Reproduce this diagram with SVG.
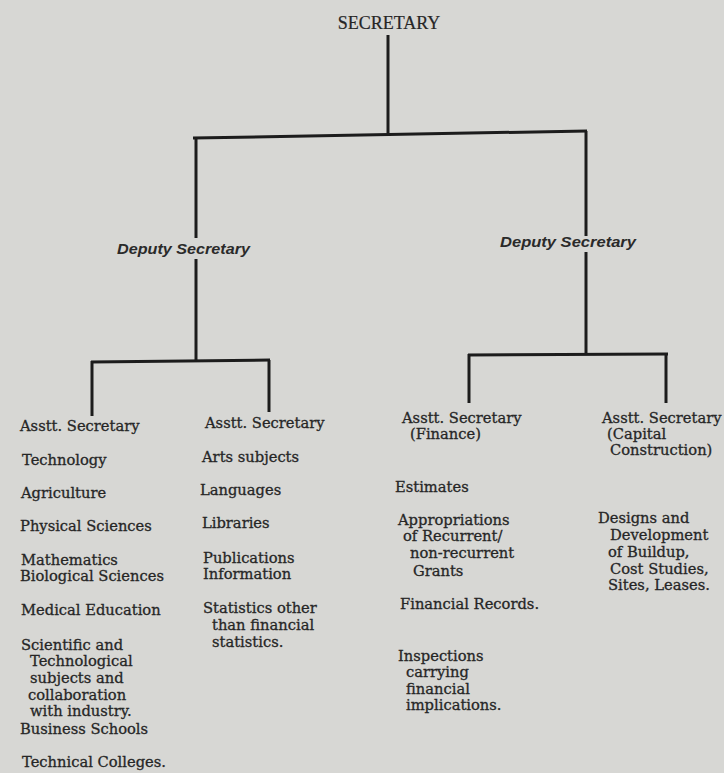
<svg xmlns="http://www.w3.org/2000/svg" width="724" height="773" viewBox="0 0 724 773">
<style>
.bg{fill:#d7d7d4}
.ln{stroke:#1c1c1c;stroke-width:3;fill:none;stroke-linecap:butt}
.t{font-family:"DejaVu Serif","Liberation Serif",serif;font-size:14.7px;fill:#262626;stroke:#262626;stroke-width:0.3}
.sec{font-family:"Liberation Serif","Times New Roman",serif;font-size:18px;fill:#262626;stroke:#262626;stroke-width:0.2}
.dep{font-family:"Liberation Sans",Arial,sans-serif;font-size:15.5px;font-style:italic;font-weight:bold;fill:#2a2a2a}
</style>
<rect class="bg" x="0" y="0" width="724" height="773"/>
<g id="connectors">
<line class="ln" x1="388" y1="35" x2="388" y2="133"/>
<line class="ln" x1="193" y1="138" x2="587" y2="131"/>
<line class="ln" x1="196" y1="138" x2="196" y2="238"/>
<line class="ln" x1="196" y1="259" x2="196" y2="361"/>
<line class="ln" x1="586" y1="131" x2="586" y2="236"/>
<line class="ln" x1="586" y1="252" x2="586" y2="355"/>
<line class="ln" x1="91" y1="362" x2="270" y2="360"/>
<line class="ln" x1="92" y1="361" x2="92" y2="416"/>
<line class="ln" x1="269" y1="360" x2="269" y2="412"/>
<line class="ln" x1="468" y1="355" x2="668" y2="354"/>
<line class="ln" x1="469" y1="354" x2="469" y2="403"/>
<line class="ln" x1="666" y1="353" x2="666" y2="403"/>
</g>
<g id="secretary">
<text class="sec" x="389" y="29" text-anchor="middle">SECRETARY</text>
</g>
<g id="deputy-left">
<text class="dep" x="117" y="254" textLength="133" lengthAdjust="spacingAndGlyphs">Deputy Secretary</text>
</g>
<g id="deputy-right">
<text class="dep" x="500" y="247" textLength="136" lengthAdjust="spacingAndGlyphs">Deputy Secretary</text>
</g>
<g id="asst-1">
<text class="t" x="20" y="431">Asstt. Secretary</text>
<text class="t" x="22" y="465">Technology</text>
<text class="t" x="21" y="498">Agriculture</text>
<text class="t" x="20" y="531">Physical Sciences</text>
<text class="t" x="21" y="565">Mathematics</text>
<text class="t" x="20" y="581">Biological Sciences</text>
<text class="t" x="21" y="615">Medical Education</text>
<text class="t" x="21" y="650">Scientific and</text>
<text class="t" x="30" y="666">Technological</text>
<text class="t" x="30" y="683">subjects and</text>
<text class="t" x="28" y="700">collaboration</text>
<text class="t" x="30" y="716">with industry.</text>
<text class="t" x="20" y="734">Business Schools</text>
<text class="t" x="22" y="767">Technical Colleges.</text>
</g>
<g id="asst-2">
<text class="t" x="205" y="428">Asstt. Secretary</text>
<text class="t" x="202" y="462">Arts subjects</text>
<text class="t" x="200" y="495">Languages</text>
<text class="t" x="202" y="528">Libraries</text>
<text class="t" x="203" y="563">Publications</text>
<text class="t" x="203" y="579">Information</text>
<text class="t" x="203" y="613">Statistics other</text>
<text class="t" x="212" y="630">than financial</text>
<text class="t" x="212" y="647">statistics.</text>
</g>
<g id="asst-finance">
<text class="t" x="402" y="423">Asstt. Secretary</text>
<text class="t" x="410" y="439">(Finance)</text>
<text class="t" x="395" y="492">Estimates</text>
<text class="t" x="398" y="525">Appropriations</text>
<text class="t" x="403" y="541">of Recurrent/</text>
<text class="t" x="410" y="558">non-recurrent</text>
<text class="t" x="413" y="576">Grants</text>
<text class="t" x="400" y="609">Financial Records.</text>
<text class="t" x="398" y="661">Inspections</text>
<text class="t" x="406" y="677">carrying</text>
<text class="t" x="406" y="694">financial</text>
<text class="t" x="406" y="710">implications.</text>
</g>
<g id="asst-capital">
<text class="t" x="602" y="423">Asstt. Secretary</text>
<text class="t" x="607" y="439">(Capital</text>
<text class="t" x="610" y="455">Construction)</text>
<text class="t" x="598" y="523">Designs and</text>
<text class="t" x="610" y="540">Development</text>
<text class="t" x="608" y="557">of Buildup,</text>
<text class="t" x="610" y="574">Cost Studies,</text>
<text class="t" x="608" y="590">Sites, Leases.</text>
</g>
</svg>
